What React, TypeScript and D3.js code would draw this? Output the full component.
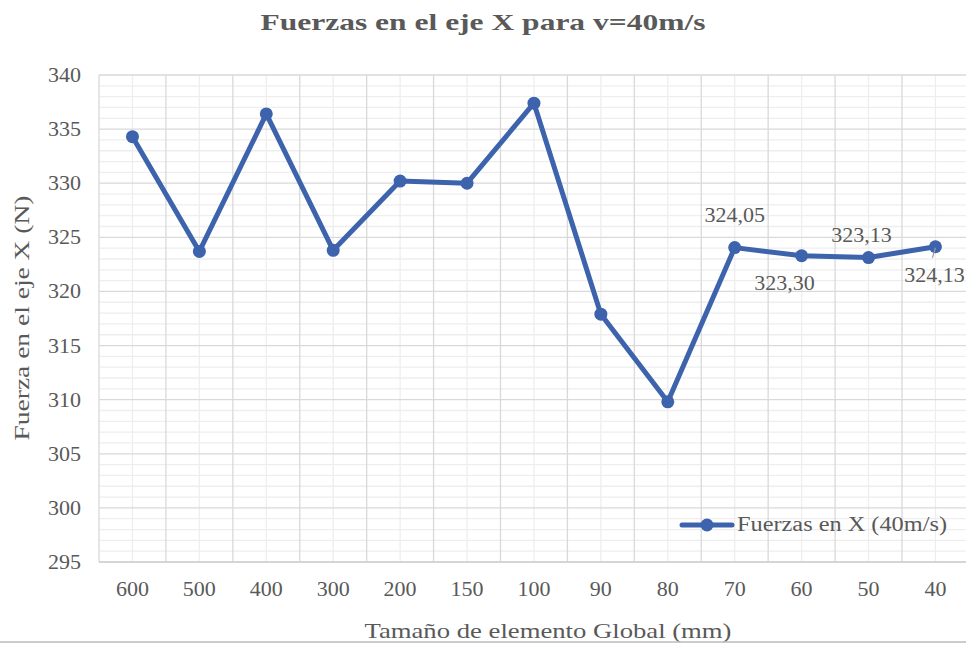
import React from "react";
import * as d3 from "d3";

const categories = ["600", "500", "400", "300", "200", "150", "100", "90", "80", "70", "60", "50", "40"];
const values = [334.3, 323.7, 336.4, 323.8, 330.2, 330.0, 337.4, 317.9, 309.8, 324.05, 323.3, 323.13, 324.13];
const labels: { idx: number; text: string; pos: "above" | "below" }[] = [
  { idx: 9, text: "324,05", pos: "above" },
  { idx: 10, text: "323,30", pos: "below" },
  { idx: 11, text: "323,13", pos: "above" },
  { idx: 12, text: "324,13", pos: "below" },
];
const yTicks = [295, 300, 305, 310, 315, 320, 325, 330, 335, 340];
const title = "Fuerzas en el eje X para v=40m/s";
const xTitle = "Tamaño de elemento Global (mm)";
const yTitle = "Fuerza en el eje X (N)";
const seriesName = "Fuerzas en X (40m/s)";

const W = 966;
const H = 646;
const FONT = "'Liberation Serif', 'DejaVu Serif', serif";
const TXT = "#595959";
const BLUE = "#3d63ad";

export default function App() {
  const left = 99, right = 968.9, top = 75, bottom = 562;
  const x = d3.scaleBand<string>().domain(categories).range([left, right]).padding(0);
  const y = d3.scaleLinear().domain([295, 340]).range([bottom, top]);
  const cx = (i: number) => (x(categories[i]) as number) + x.bandwidth() / 2;

  const minorY = d3.range(295, 341, 1).filter((v) => v % 5 !== 0);
  const line = d3.line<number>().x((_, i) => cx(i)).y((v) => y(v));

  const labelOffsets: Record<number, { dx: number; dy: number }> = {
    9: { dx: 0, dy: -26 },
    10: { dx: -17, dy: 34 },
    11: { dx: -7, dy: -16 },
    12: { dx: -1, dy: 35 },
  };

  return (
    <svg width={W} height={H} style={{ position: "fixed", left: 0, top: 0, background: "#fff" }}>
      <rect x={0} y={0} width={W} height={H} fill="#fff" />
      {minorY.map((v) => (
        <line key={"mh" + v} x1={left} x2={right} y1={y(v)} y2={y(v)} stroke="#eeeeee" strokeWidth={1.3} />
      ))}
      {categories.map((c, i) => (
        <line key={"mv" + c} x1={cx(i)} x2={cx(i)} y1={top} y2={bottom} stroke="#eeeeee" strokeWidth={1.3} />
      ))}
      {yTicks.map((v) => (
        <line key={"h" + v} x1={left} x2={right} y1={y(v)} y2={y(v)} stroke="#d9d9d9" strokeWidth={1.3} />
      ))}
      {categories.map((c) => (
        <line key={"v" + c} x1={x(c) as number} x2={x(c) as number} y1={top} y2={bottom} stroke="#d9d9d9" strokeWidth={1.3} />
      ))}
      <line x1={left} x2={right} y1={bottom} y2={bottom} stroke="#d0d0d0" strokeWidth={1.5} />

      {yTicks.map((v) => (
        <text key={"yt" + v} x={81} y={y(v) + 7} textAnchor="end" fontFamily={FONT} fontSize={22} fill={TXT}>
          {v}
        </text>
      ))}
      {categories.map((c, i) => (
        <text key={"xt" + c} x={cx(i)} y={596} textAnchor="middle" fontFamily={FONT} fontSize={22} fill={TXT}>
          {c}
        </text>
      ))}

      <path d={line(values) as string} fill="none" stroke={BLUE} strokeWidth={5} strokeLinejoin="round" />
      {values.map((v, i) => (
        <circle key={"p" + i} cx={cx(i)} cy={y(v)} r={6.5} fill={BLUE} />
      ))}

      <line x1={cx(12)} y1={y(values[12]) + 1} x2={cx(12) - 3} y2={y(values[12]) + 11} stroke="#999" strokeWidth={1.2} />

      {labels.map((l) => {
        const o = labelOffsets[l.idx];
        return (
          <text key={"dl" + l.idx} x={cx(l.idx) + o.dx} y={y(values[l.idx]) + o.dy} textAnchor="middle" fontFamily={FONT} fontSize={22} fill={TXT}>
            {l.text}
          </text>
        );
      })}

      <line x1={682} x2={732} y1={525} y2={525} stroke={BLUE} strokeWidth={5} strokeLinecap="round" />
      <circle cx={707} cy={525} r={6.5} fill={BLUE} />
      <text x={737} y={531} fontFamily={FONT} fontSize={20} fill={TXT} textLength={210} lengthAdjust="spacingAndGlyphs">
        {seriesName}
      </text>

      <text x={483} y={30} textAnchor="middle" fontFamily={FONT} fontSize={24} fontWeight="bold" fill="#595959" textLength={445} lengthAdjust="spacingAndGlyphs">
        {title}
      </text>
      <text x={548} y={638} textAnchor="middle" fontFamily={FONT} fontSize={22} fill={TXT} textLength={367} lengthAdjust="spacingAndGlyphs">
        {xTitle}
      </text>
      <text transform="translate(29,318) rotate(-90)" textAnchor="middle" fontFamily={FONT} fontSize={22} fill={TXT} textLength={245} lengthAdjust="spacingAndGlyphs">
        {yTitle}
      </text>

      <line x1={0} x2={W} y1={642} y2={642} stroke="#bbbbbb" strokeWidth={1.5} />
    </svg>
  );
}
